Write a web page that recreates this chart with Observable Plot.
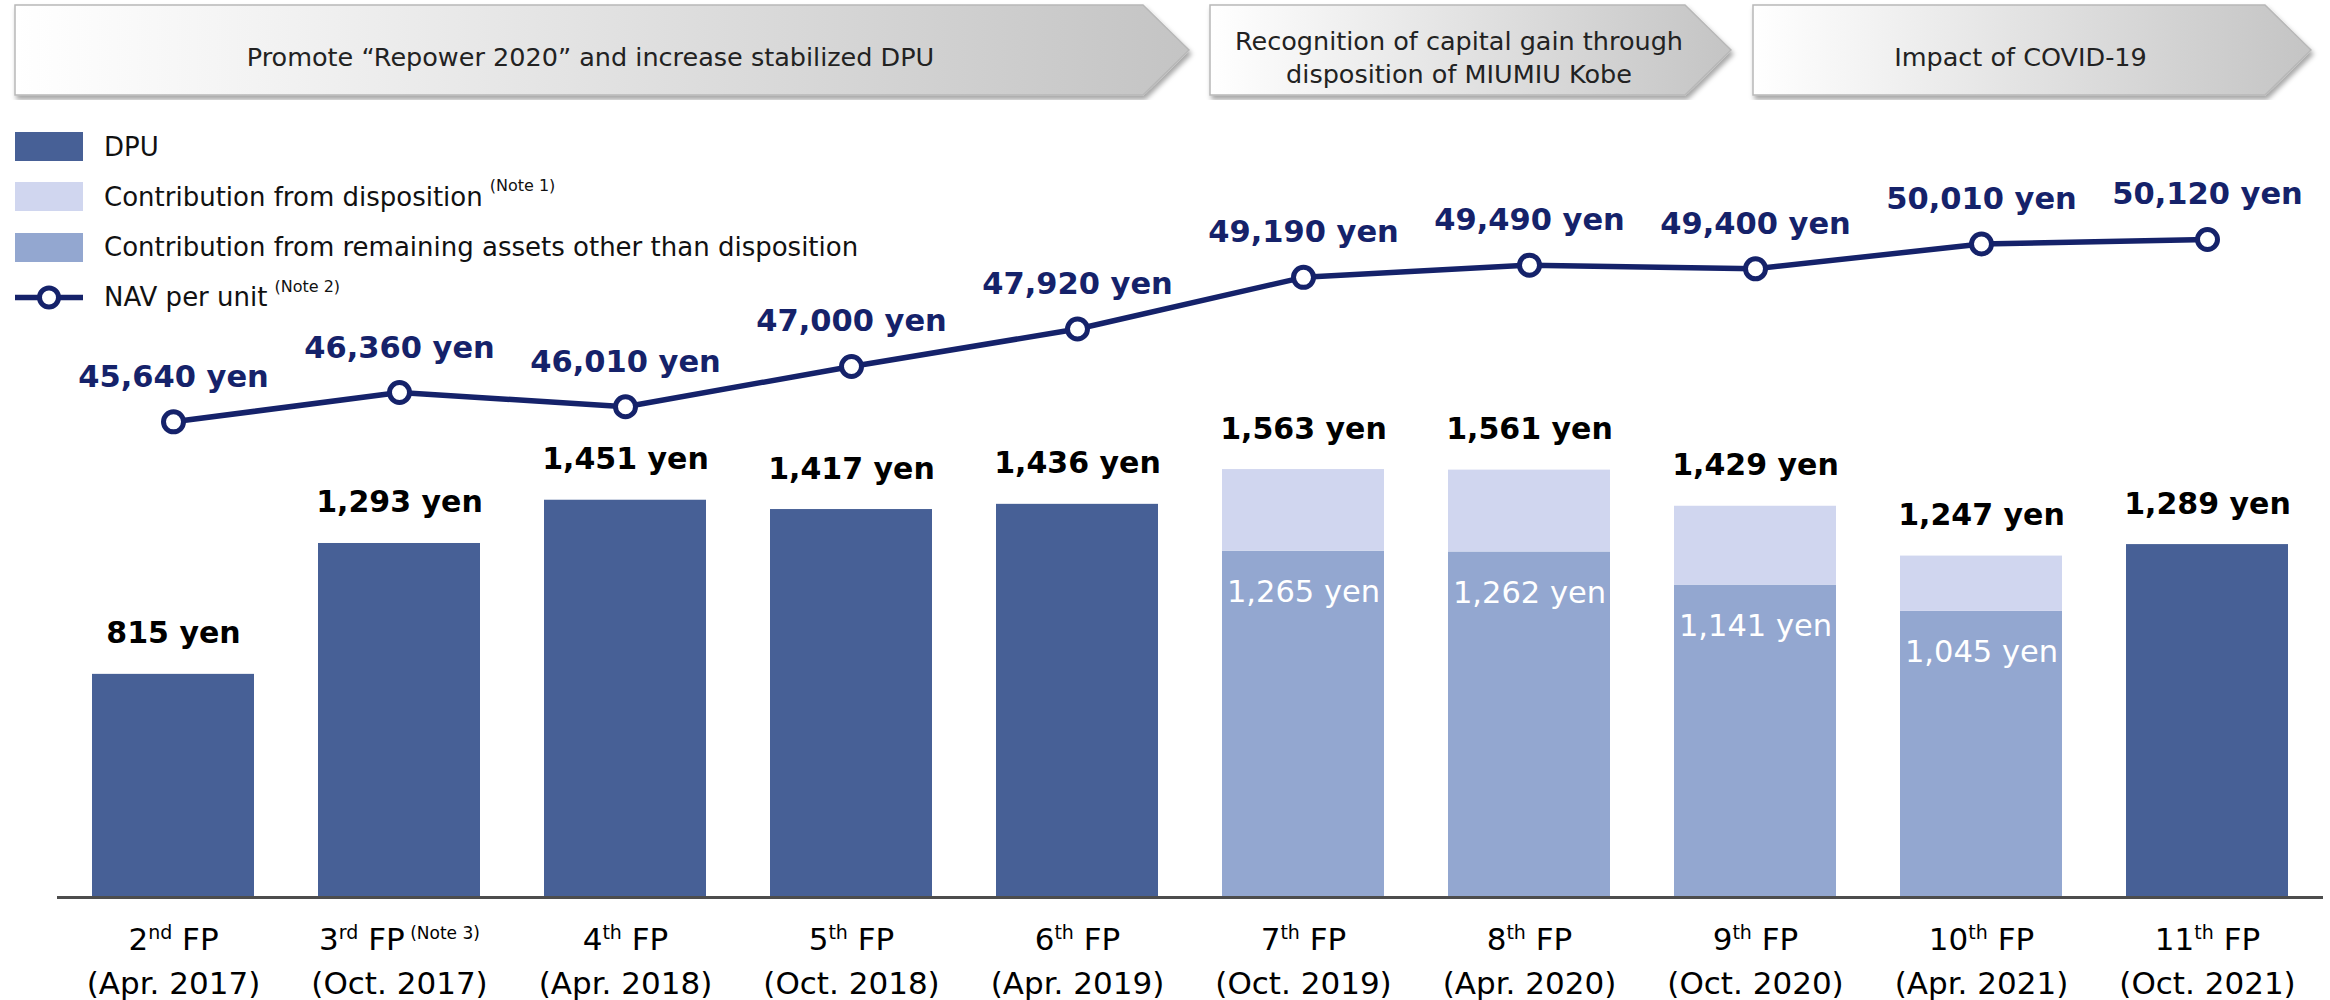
<!DOCTYPE html>
<html>
<head>
<meta charset="utf-8">
<script src="https://cdn.jsdelivr.net/npm/d3@7"></script>
<script src="https://cdn.jsdelivr.net/npm/@observablehq/plot@0.6"></script>
<style>
  html, body { margin: 0; padding: 0; background: #fff; }
  #page { position: relative; width: 2330px; height: 1000px; overflow: hidden; font-family: "DejaVu Sans", sans-serif; }
  #banners { position: absolute; left: 0; top: 0; width: 2330px; height: 100px; }
  #chart { position: absolute; left: 0; top: 100px; width: 2330px; height: 900px; }
  #chart > svg, #chart > figure { position: absolute; left: 0; top: 0; }
  #legend { position: absolute; left: 15px; top: 132px; z-index: 5; }
  .row { display: flex; align-items: center; height: 29px; margin-bottom: 21.3px; font-size: 26px; color: #111; white-space: nowrap; }
  .sw { width: 68px; height: 29px; margin-right: 21px; flex: none; }
  .note { font-size: 16px; position: relative; top: -11px; margin-left: 7px; }
</style>
</head>
<body>
<div id="page">
  <svg id="banners" width="2330" height="100"></svg>
  <div id="chart"></div>
  <div id="legend"></div>
</div>
<script>
// ---------------- data ----------------
const fpNumber = ["2", "3", "4", "5", "6", "7", "8", "9", "10", "11"];
const fpSuffix = ["nd", "rd", "th", "th", "th", "th", "th", "th", "th", "th"];
const fpNote = ["", "(Note 3)", "", "", "", "", "", "", "", ""];
const fpDate = ["(Apr. 2017)", "(Oct. 2017)", "(Apr. 2018)", "(Oct. 2018)", "(Apr. 2019)",
                "(Oct. 2019)", "(Apr. 2020)", "(Oct. 2020)", "(Apr. 2021)", "(Oct. 2021)"];
const dpu = [815, 1293, 1451, 1417, 1436, 1563, 1561, 1429, 1247, 1289];
const remaining = [null, null, null, null, null, 1265, 1262, 1141, 1045, null];
const nav = [45640, 46360, 46010, 47000, 47920, 49190, 49490, 49400, 50010, 50120];
const seriesNames = ["DPU", "Contribution from disposition",
                     "Contribution from remaining assets other than disposition", "NAV per unit"];
const seriesNotes = ["", "(Note 1)", "", "(Note 2)"];
const bannerTexts = [
  ["Promote \u201CRepower 2020\u201D and increase stabilized DPU"],
  ["Recognition of capital gain through", "disposition of MIUMIU Kobe"],
  ["Impact of COVID-19"]
];

// ---------------- styles ----------------
const COL_DPU = "#476096", COL_REM = "#93a7d0", COL_DISP = "#d0d6ef", COL_NAV = "#15226a";
const FONT = "DejaVu Sans";
const fmt = d3.format(",");

const periods = fpNumber.map((n, i) => `${n}${fpSuffix[i]} FP`);
const rows = periods.map((p, i) => ({period: p, i, dpu: dpu[i], remaining: remaining[i], nav: nav[i]}));
const stacked = rows.filter(d => d.remaining != null);
const plain = rows.filter(d => d.remaining == null);

const W = 2330, H = 900;
const common = {
  width: W, height: H,
  marginLeft: 57, marginRight: 7, marginTop: 0, marginBottom: 103,
  style: {background: "transparent", overflow: "visible", fontFamily: FONT},
};
const xScale = {domain: periods, paddingInner: 0.285, paddingOuter: 0.141};

// ---------------- bars ----------------
const bars = Plot.plot({
  ...common,
  x: {...xScale, label: null},
  y: {domain: [0, 2911], axis: null},
  marks: [
    Plot.barY(plain, {x: "period", y: "dpu", fill: COL_DPU}),
    Plot.barY(stacked, {x: "period", y1: 0, y2: "remaining", fill: COL_REM}),
    Plot.barY(stacked, {x: "period", y1: "remaining", y2: "dpu", fill: COL_DISP}),
    Plot.ruleY([0], {stroke: "#4d4d4d", strokeWidth: 3}),
    Plot.text(rows, {x: "period", y: "dpu", text: d => `${fmt(d.dpu)} yen`, dy: -31,
      lineAnchor: "bottom", fontSize: 30, fontWeight: "bold", fill: "#000"}),
    Plot.text(stacked, {x: "period", y: "remaining", text: d => `${fmt(d.remaining)} yen`, dy: 51,
      lineAnchor: "bottom", fontSize: 30.5, fill: "#fff"}),
    Plot.axisX({tickSize: 0, tickPadding: 0, fontSize: 31, fill: "#000", label: null,
      tickFormat: d => fpDate[periods.indexOf(d)]})
  ]
});

// rebuild x tick labels with superscripts
d3.select(bars).selectAll('g[aria-label="x-axis tick label"] text').each(function () {
  const t = d3.select(this);
  const i = fpDate.indexOf(this.textContent);
  if (i < 0) return;
  t.attr("y", null).text(null).style("font-variant", "normal");
  const l1 = t.append("tspan").attr("x", 0).attr("y", 52);
  l1.append("tspan").text(fpNumber[i]);
  l1.append("tspan").attr("dy", -11).attr("font-size", 19).text(fpSuffix[i]);
  l1.append("tspan").attr("dy", 11).text(" FP");
  if (fpNote[i]) {
    l1.append("tspan").attr("dy", -11).attr("font-size", 17).text(" " + fpNote[i]);
  }
  t.append("tspan").attr("x", 0).attr("y", 96).text(fpDate[i]);
});

// ---------------- NAV line ----------------
const line = Plot.plot({
  ...common,
  x: {...xScale, axis: null},
  y: {domain: [33953, 53535], axis: null},
  marks: [
    Plot.line(rows, {x: "period", y: "nav", stroke: COL_NAV, strokeWidth: 5.5}),
    Plot.dot(rows, {x: "period", y: "nav", r: 10, fill: "#fff", stroke: COL_NAV, strokeWidth: 5}),
    Plot.text(rows, {x: "period", y: "nav", text: d => `${fmt(d.nav)} yen`, dy: -35,
      lineAnchor: "bottom", fontSize: 30.5, fontWeight: "bold", fill: COL_NAV})
  ]
});

const chart = document.getElementById("chart");
chart.appendChild(bars);
chart.appendChild(line);

// ---------------- legend ----------------
const legend = d3.select("#legend");
const swatchFill = [COL_DPU, COL_DISP, COL_REM, null];
seriesNames.forEach((name, k) => {
  const row = legend.append("div").attr("class", "row");
  if (swatchFill[k]) {
    row.append("div").attr("class", "sw").style("background", swatchFill[k]);
  } else {
    const s = row.append("svg").attr("class", "sw").attr("width", 68).attr("height", 29);
    s.append("line").attr("x1", 0).attr("x2", 68).attr("y1", 14.5).attr("y2", 14.5)
      .attr("stroke", COL_NAV).attr("stroke-width", 5.5);
    s.append("circle").attr("cx", 34).attr("cy", 14.5).attr("r", 9.5)
      .attr("fill", "#fff").attr("stroke", COL_NAV).attr("stroke-width", 5);
  }
  row.append("span").text(name);
  if (seriesNotes[k]) row.append("span").attr("class", "note").text(seriesNotes[k]);
});

// ---------------- banners ----------------
const bsvg = d3.select("#banners");
const defs = bsvg.append("defs");
const grad = defs.append("linearGradient").attr("id", "bg").attr("x1", 0).attr("x2", 1).attr("y1", 0).attr("y2", 0);
grad.append("stop").attr("offset", 0).attr("stop-color", "#ffffff");
grad.append("stop").attr("offset", 1).attr("stop-color", "#c4c4c4");
const filt = defs.append("filter").attr("id", "sh").attr("x", -0.05).attr("y", -0.2).attr("width", 1.1).attr("height", 1.5);
filt.append("feDropShadow").attr("dx", 2).attr("dy", 4).attr("stdDeviation", 2.5)
  .attr("flood-color", "#000").attr("flood-opacity", 0.35);
const bx0 = [15, 1210, 1753], bx1 = [1189, 1731, 2311];
const by0 = 5, by1 = 95, tipDepth = 46;
bannerTexts.forEach((lines, k) => {
  const x0 = bx0[k], x1 = bx1[k], ym = (by0 + by1) / 2;
  bsvg.append("polygon")
    .attr("points", [[x0, by0], [x1 - tipDepth, by0], [x1, ym], [x1 - tipDepth, by1], [x0, by1]].map(p => p.join(",")).join(" "))
    .attr("fill", "url(#bg)").attr("stroke", "#b8b8b8").attr("stroke-width", 1.5)
    .attr("filter", "url(#sh)");
  const cx = (x0 + x1 - tipDepth / 2) / 2;
  const lh = 33;
  const first = ym + 16 - (lines.length - 1) * lh / 2;
  lines.forEach((s, j) => {
    bsvg.append("text").attr("x", cx).attr("y", first + j * lh)
      .attr("text-anchor", "middle").attr("font-family", FONT).attr("font-size", 25.5)
      .attr("fill", "#222").text(s);
  });
});
</script>
</body>
</html>
